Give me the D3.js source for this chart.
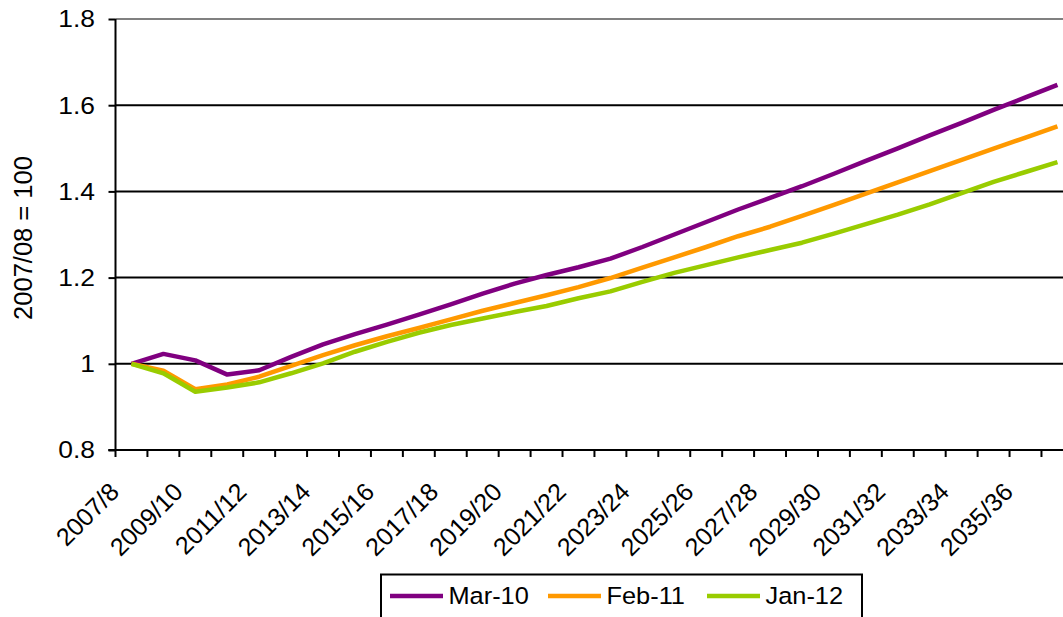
<!DOCTYPE html>
<html><head><meta charset="utf-8">
<script src="https://cdn.jsdelivr.net/npm/d3@7"></script>
<style>body{margin:0;background:#fff}svg{display:block}text{font-family:"Liberation Sans",Arial,sans-serif}</style>
</head><body>
<svg id="c" width="1063" height="617"></svg>
<script>
const categories = ["2007/8","2008/9","2009/10","2010/11","2011/12","2012/13","2013/14","2014/15","2015/16","2016/17","2017/18","2018/19","2019/20","2020/21","2021/22","2022/23","2023/24","2024/25","2025/26","2026/27","2027/28","2028/29","2029/30","2030/31","2031/32","2032/33","2033/34","2034/35","2035/36","2036/37"];
const mar10 = [1.0,1.023,1.008,0.975,0.985,1.016,1.045,1.069,1.091,1.114,1.138,1.163,1.186,1.206,1.224,1.244,1.271,1.300,1.329,1.358,1.385,1.412,1.441,1.471,1.500,1.530,1.559,1.589,1.618,1.647];
const feb11 = [1.0,0.984,0.941,0.952,0.970,0.995,1.020,1.043,1.064,1.083,1.103,1.123,1.141,1.159,1.178,1.199,1.223,1.247,1.271,1.296,1.318,1.343,1.369,1.395,1.421,1.447,1.473,1.499,1.525,1.551];
const jan12 = [1.0,0.978,0.935,0.945,0.957,0.978,1.001,1.028,1.051,1.072,1.090,1.105,1.120,1.134,1.152,1.168,1.190,1.211,1.229,1.247,1.264,1.281,1.302,1.324,1.346,1.370,1.396,1.422,1.445,1.468];
const yTicks = [0.8,1.0,1.2,1.4,1.6,1.8];
const yTickLabels = ["0.8","1","1.2","1.4","1.6","1.8"];
const seriesNames = ["Mar-10","Feb-11","Jan-12"];
const seriesColors = ["#800080","#FF9900","#99CC00"];
const yTitle = "2007/08 = 100";

const series = [mar10, feb11, jan12].map((v,k)=>({name:seriesNames[k], color:seriesColors[k], values:v}));
const svg = d3.select("#c");
const plotLeft = 115.5, plotTop = 19, plotBottom = 450, bandW = 31.93;
const x = d3.scaleBand().domain(categories).range([plotLeft, plotLeft + bandW*categories.length]).padding(0);
const y = d3.scaleLinear().domain([0.8,1.8]).range([plotBottom, plotTop]);

// gridlines
svg.append("g").selectAll("line").data(yTicks.filter(t=>t>0.8)).join("line")
  .attr("x1", plotLeft).attr("x2", 1063).attr("y1", d=>y(d)).attr("y2", d=>y(d))
  .attr("stroke", d=> d===1.8 ? "#808080" : "#000").attr("stroke-width", 2);

// y axis
const yAxis = d3.axisLeft(y).tickValues(yTicks).tickSize(7).tickFormat((d,i)=>yTickLabels[i]);
const gy = svg.append("g").attr("transform", `translate(${plotLeft},0)`).call(yAxis);
gy.select(".domain").attr("stroke","#000").attr("stroke-width",2).attr("d", `M-7,${y(0.8)}H0V${y(1.8)}`);
gy.selectAll(".tick line").attr("stroke","#000").attr("stroke-width",2);
gy.selectAll(".tick text")
  .attr("x", null).attr("dy", null)
  .attr("transform", "translate(-20.5,7.8) scale(1.1,1)")
  .attr("text-anchor","end")
  .attr("font-size", 24).attr("fill","#000").attr("font-family","Liberation Sans, Arial, sans-serif");

// x axis line and ticks at band edges
const edges = categories.map(c=>x(c)).concat([x(categories[categories.length-1]) + x.bandwidth()]);
svg.append("line").attr("x1", plotLeft-7).attr("x2", edges[edges.length-1]).attr("y1", plotBottom).attr("y2", plotBottom)
  .attr("stroke","#000").attr("stroke-width",2);
svg.append("g").selectAll("line").data(edges).join("line")
  .attr("x1", d=>d).attr("x2", d=>d).attr("y1", plotBottom).attr("y2", plotBottom+7)
  .attr("stroke","#000").attr("stroke-width",2);

// x labels every other category
svg.append("g").selectAll("text").data(categories.filter((c,i)=>i%2===0)).join("text")
  .attr("transform", d=>`translate(${x(d)+x.bandwidth()/2-11},493.5) rotate(-45)`)
  .attr("text-anchor","end").attr("font-size", 25).attr("fill","#000").text(d=>d);

// y title
svg.append("text").attr("transform","translate(32,238) rotate(-90)").attr("text-anchor","middle")
  .attr("font-size", 25.5).attr("fill","#000").text(yTitle);

// lines
const line = d3.line().x((d,i)=>x(categories[i]) + x.bandwidth()/2).y(d=>y(d));
svg.append("g").selectAll("path").data(series).join("path")
  .attr("d", d=>line(d.values)).attr("fill","none").attr("stroke", d=>d.color)
  .attr("stroke-width", 4.5).attr("stroke-linejoin","round");

// legend
const lg = svg.append("g");
lg.append("rect").attr("x",381).attr("y",574.5).attr("width",481).attr("height",60)
  .attr("fill","#fff").attr("stroke","#000").attr("stroke-width",2);
const itemX = [390, 548, 707];
series.forEach((s,k)=>{
  lg.append("line").attr("x1", itemX[k]).attr("x2", itemX[k]+53).attr("y1",596).attr("y2",596)
    .attr("stroke", s.color).attr("stroke-width",4.5);
  lg.append("text").attr("transform", `translate(${itemX[k]+58.5},603.5) scale(1.08,1)`)
    .attr("font-size",23.5).attr("fill","#000").text(s.name);
});
</script>
</body></html>
